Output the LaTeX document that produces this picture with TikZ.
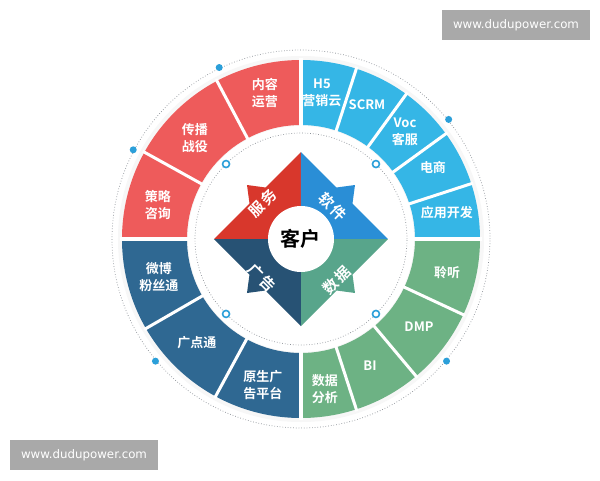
\documentclass[tikz,border=0pt]{standalone}
\usepackage{fontspec}
\newfontfamily\cjk{Noto Sans CJK SC}[BoldFont={Noto Sans CJK SC Bold}]
\newfontfamily\wmfont{DejaVu Sans}
\definecolor{ringred}{HTML}{EE5B5B}
\definecolor{quadred}{HTML}{D8372C}
\definecolor{ringblue}{HTML}{35B6E6}
\definecolor{quadblue}{HTML}{2A8ED6}
\definecolor{ringnavy}{HTML}{2F6892}
\definecolor{quadnavy}{HTML}{275274}
\definecolor{ringgreen}{HTML}{6DB284}
\definecolor{quadgreen}{HTML}{58A58B}
\definecolor{dotblue}{HTML}{2B9FD9}
\definecolor{wmgray}{HTML}{A9A9A9}
\definecolor{dotgray}{HTML}{8A8F96}
\begin{document}
\begin{tikzpicture}[x=1pt,y=1pt,
  seglabel/.style={text=white,align=center,inner sep=0pt,font=\cjk\bfseries\fontsize{13}{17}\selectfont},
  quadlabel/.style={text=white,inner sep=0pt,font=\cjk\bfseries\fontsize{15}{15}\selectfont},
  dotring/.style={dotgray,line width=0.7pt,dash pattern=on 0.7pt off 2pt},
  filldot/.style={circle,fill=dotblue,inner sep=0pt,minimum size=7pt},
  hollowdot/.style={circle,draw=dotblue,fill=white,line width=1.6pt,inner sep=0pt,minimum size=7pt},
  wmbox/.style={fill=wmgray,text=white,minimum width=148pt,minimum height=30pt,inner sep=0pt,font=\wmfont\fontsize{11.8}{12}\selectfont},
  sepline/.style={white,line width=3pt},
  quadsep/.style={white,line width=4pt}]
\useasboundingbox (-301,-241) rectangle (299,239);
\fill[white] (-301,-241) rectangle (299,239);
% soft halo
\fill[gray!6] (0,0) circle[radius=183];
% outer dotted circle
\draw[dotring] (0,0) circle[radius=189];
% ring quadrants
\newcommand\ringseg[3]{\fill[#3] (#1:114) arc[start angle=#1,end angle=#2,radius=114] -- (#2:179) arc[start angle=#2,end angle=#1,radius=179] -- cycle;}
\ringseg{0}{90}{ringblue}
\ringseg{90}{180}{ringred}
\ringseg{180}{270}{ringnavy}
\ringseg{270}{360}{ringgreen}
\foreach \a in {18,36,54,72,118,151,210,241.5,288,310,335}
  \draw[sepline] (\a:112) -- (\a:181);
\foreach \a in {0,90,180,270}
  \draw[quadsep] (\a:112) -- (\a:181);
% inner white disc + dotted circle
\fill[white] (0,0) circle[radius=113];
\draw[dotring] (0,0) circle[radius=106];
% diamond quadrants
\newcommand\quadshape{(0,0) -- (-87,0) -- (-51.5,35.5) -- (-54,54) -- (-35.5,51.5) -- (0,87) -- cycle}
\fill[quadred] \quadshape;
\fill[quadblue,rotate=-90] \quadshape;
\fill[quadgreen,rotate=-180] \quadshape;
\fill[quadnavy,rotate=-270] \quadshape;
% centre
\fill[white] (0,0) circle[radius=33];
\node[inner sep=0pt,font=\cjk\bfseries\fontsize{20}{20}\selectfont] (kehu) at (0,0) {客户};
\node[quadlabel,rotate=45] (fu) at (-44,30) {服};
\node[quadlabel,rotate=45] (wu) at (-32,42) {务};
\node[quadlabel,rotate=-45] (ruan) at (26,38) {软};
\node[quadlabel,rotate=-45] (jian) at (38,26) {件};
\node[quadlabel,rotate=-45] (guang) at (-45,-33) {广};
\node[quadlabel,rotate=-45] (gao) at (-33,-45) {告};
\node[quadlabel,rotate=45] (shu) at (30,-47) {数};
\node[quadlabel,rotate=45] (ju) at (42,-35) {据};
% dots
\foreach \a [count=\i] in {115.5,152,39,220,320}
  \node[filldot] (od\i) at (\a:190) {};
\foreach \a [count=\i] in {45,135,225,315}
  \node[hollowdot] (id\i) at (\a:106) {};
% ring labels
\node[seglabel] (s1) at (-36,146) {内容\\运营};
\node[seglabel] (s2) at (-106,101) {传播\\战役};
\node[seglabel] (s3) at (-143,34) {策略\\咨询};
\node[seglabel] (s4) at (21,146) {H5\\营销云};
\node[seglabel] (s5) at (66,134) {SCRM};
\node[seglabel] (s6) at (104,107) {Voc\\客服};
\node[seglabel] (s7) at (132,71) {电商};
\node[seglabel] (s8) at (146,26) {应用开发};
\node[seglabel] (s9) at (-142,-38) {微博\\粉丝通};
\node[seglabel] (s10) at (-104,-104) {广点通};
\node[seglabel] (s11) at (-38,-146) {原生广\\告平台};
\node[seglabel] (s12) at (146,-34) {聆听};
\node[seglabel] (s13) at (118,-88) {DMP};
\node[seglabel] (s14) at (69,-127) {BI};
\node[seglabel] (s15) at (24,-150) {数据\\分析};
% watermarks
\node[wmbox] (wm1) at (215,214) {www.dudupower.com};
\node[wmbox] (wm2) at (-217,-216) {www.dudupower.com};
\end{tikzpicture}
\end{document}
